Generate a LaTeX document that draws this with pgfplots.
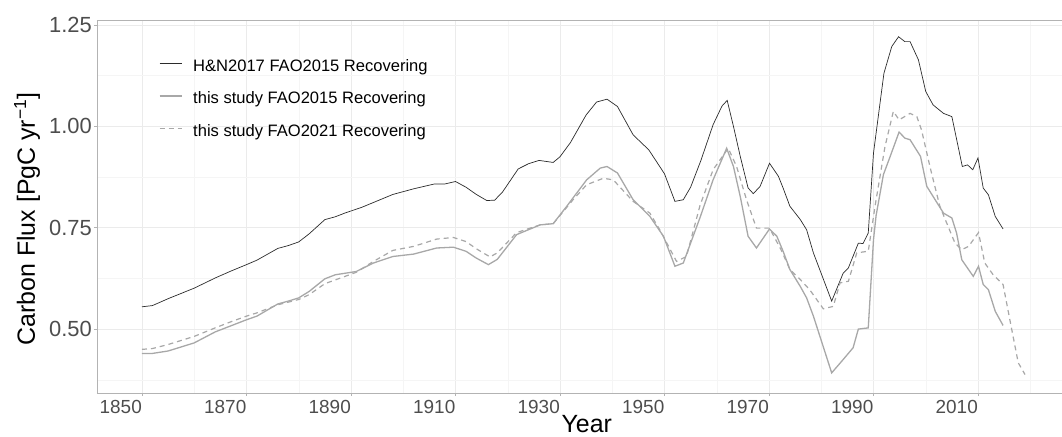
\documentclass[border=0pt]{standalone}
\usepackage{fontspec}
\setmainfont{Liberation Sans}
\usepackage{pgfplots}
\pgfplotsset{compat=1.18}

\definecolor{hn}{HTML}{2B2B2B}
\definecolor{ts}{HTML}{A8A8A8}
\definecolor{tick}{HTML}{4D4D4D}
\definecolor{frame}{HTML}{B3B3B3}
\definecolor{gmaj}{HTML}{EBEBEB}
\definecolor{gmin}{HTML}{F5F5F5}

\begin{document}
\begin{tikzpicture}
\begin{axis}[name=ax,
	scale only axis, width=965bp, height=373bp,
	xmin=1841.39, xmax=2026.08,
	ymin=0.3424, ymax=1.2623,
	axis x line=box, axis y line=left,
	axis line style={-, draw=frame, line width=0.8bp},
	xtick={1850,1870,...,2010},
	minor xtick={1860,1880,...,2020},
	ytick={0.5,0.75,1.0,1.25},
	minor ytick={0.375,0.625,0.875,1.125},
	yticklabels={0.50,0.75,1.00,1.25},
	xticklabel style={/pgf/number format/1000 sep={}},
	/pgf/number format/assume math mode=true,
	tick align=outside, major tick length=3bp, minor tick length=0pt,
	tick style={draw=frame, line width=0.8bp},
	xtick pos=bottom, ytick pos=left,
	grid=both,
	major grid style={draw=gmaj, line width=0.6bp},
	minor grid style={draw=gmin, line width=0.4bp},
	xticklabel style={font=\fontsize{19}{22}\selectfont, text=tick, inner sep=0pt, anchor=north east, yshift=-4bp},
	yticklabel style={font=\fontsize{22}{26}\selectfont, text=tick, inner sep=0pt, xshift=-2bp},
	xlabel={Year},
	ylabel={Carbon Flux [PgC yr\textsuperscript{−1}]},
	every axis x label/.style={at={(axis description cs:0.5075,0)}, anchor=base, yshift=-39bp, font=\fontsize{25}{30}\selectfont, inner sep=0pt},
	every axis y label/.style={at={(axis description cs:0,0.4665)}, xshift=-62bp, rotate=90, anchor=base, font=\fontsize{25}{30}\selectfont, inner sep=0pt},
	legend cell align=left,
	legend image code/.code={\draw[#1] (0bp,0.35em) -- (22bp,0.35em);},
	legend style={draw=none, fill=none, at={(axis description cs:0.0642,0.895)}, anchor=north west,
		font=\fontsize{16.6}{19}\selectfont, inner sep=0pt, outer sep=0pt, row sep=17bp, column sep=11bp,
		nodes={inner sep=0pt, text height=12bp, text depth=3.5bp}},
	clip=false,
]
\addplot[hn, line width=0.7bp] coordinates {
(1850,0.555) (1852,0.558) (1855,0.575) (1860,0.601) (1864,0.626) (1867,0.643)
(1870,0.659) (1872,0.670) (1876,0.699) (1878,0.706) (1880,0.715) (1882,0.735)
(1885,0.770) (1887,0.777) (1889,0.787) (1892,0.800) (1895,0.816) (1898,0.832)
(1902,0.846) (1906,0.858) (1908,0.858) (1910,0.864) (1912,0.850) (1914,0.832)
(1916,0.817) (1917.5,0.818) (1919,0.838) (1922,0.895) (1924,0.908) (1926,0.916)
(1928.7,0.911) (1930,0.925) (1932,0.960) (1935,1.028) (1937,1.060) (1939,1.067)
(1941,1.049) (1944,0.979) (1947,0.942) (1950,0.883) (1952,0.815) (1953.6,0.819)
(1955,0.850) (1957,0.917) (1959.3,1.004) (1961,1.050) (1962,1.064) (1963.2,1.000)
(1964.5,0.926) (1966,0.848) (1967,0.834) (1968.3,0.852) (1970.1,0.909) (1971.8,0.877)
(1972.7,0.848) (1974,0.803) (1976,0.770) (1977.2,0.745) (1978.5,0.688) (1982,0.569)
(1984.2,0.638) (1985.2,0.651) (1987.1,0.712) (1988,0.711) (1989,0.737) (1990,0.934)
(1992,1.131) (1993.5,1.197) (1994.8,1.221) (1996,1.209) (1997,1.209) (1998.6,1.164)
(2000,1.086) (2001.4,1.053) (2003.4,1.032) (2005,1.024) (2007,0.901) (2008,0.905)
(2009,0.893) (2010,0.922) (2011,0.848) (2012,0.831) (2013.3,0.778) (2014.8,0.747)
};
\addlegendentry{H\&N2017 FAO2015 Recovering}
\addplot[ts, line width=1.3bp] coordinates {
(1850,0.440) (1852,0.440) (1855,0.446) (1860,0.466) (1864,0.493) (1867,0.508)
(1870,0.523) (1872,0.532) (1876,0.562) (1878,0.569) (1880,0.577) (1882,0.593)
(1885,0.624) (1887,0.634) (1891,0.642) (1894.3,0.663) (1898,0.679) (1902,0.685)
(1906.4,0.700) (1909.6,0.702) (1912,0.692) (1914,0.675) (1916.3,0.659) (1918,0.672)
(1921.7,0.733) (1926.2,0.757) (1928.7,0.760) (1931.3,0.803) (1935.1,0.868) (1937.7,0.897)
(1939,0.901) (1941,0.885) (1944,0.819) (1947.2,0.778) (1949.8,0.729) (1952,0.655)
(1953.6,0.663) (1956.8,0.775) (1959.3,0.868) (1961.9,0.946) (1963.2,0.901) (1964.5,0.827)
(1966,0.729) (1967.6,0.700) (1970.1,0.747) (1971.5,0.729) (1972.7,0.692) (1974,0.647)
(1976,0.605) (1977.2,0.577) (1978.5,0.532) (1982,0.392) (1984.2,0.425) (1986.1,0.454)
(1987.1,0.500) (1989,0.503) (1990,0.720) (1990.5,0.780) (1991.9,0.881) (1993.2,0.926)
(1994.9,0.986) (1996,0.971) (1997,0.967) (1999,0.926) (2000.2,0.852) (2001.8,0.819)
(2003.4,0.786) (2005,0.774) (2005.9,0.737) (2006.9,0.671) (2009.1,0.630) (2010.1,0.655)
(2011,0.610) (2012,0.597) (2013.3,0.544) (2014.8,0.509)
};
\addlegendentry{this study FAO2015 Recovering}
\addplot[ts, line width=1.2bp, dash pattern=on 5bp off 4bp] coordinates {
(1850,0.450) (1852,0.452) (1855,0.462) (1860,0.482) (1864,0.503) (1867,0.518)
(1870,0.532) (1872,0.540) (1876,0.560) (1880,0.573) (1882,0.585) (1885,0.612)
(1888,0.626) (1891,0.640) (1894.3,0.667) (1898,0.694) (1902,0.704) (1906.4,0.722)
(1909.6,0.726) (1912,0.716) (1914,0.698) (1916.6,0.678) (1918,0.688) (1921.7,0.738)
(1926.2,0.757) (1928.7,0.760) (1932.5,0.819) (1935.1,0.856) (1938.3,0.872) (1940.2,0.868)
(1944,0.815) (1947.2,0.786) (1949.1,0.745) (1952.3,0.667) (1954.2,0.679) (1956.8,0.805)
(1959.3,0.893) (1962.2,0.946) (1963.8,0.901) (1965.7,0.819) (1967.6,0.749) (1970.1,0.749)
(1972.3,0.696) (1974,0.647) (1976,0.622) (1977.8,0.597) (1980.4,0.550) (1982.3,0.556)
(1983.6,0.614) (1985.2,0.618) (1986.8,0.688) (1989,0.692) (1990.3,0.803) (1992.2,0.950)
(1993.8,1.037) (1994.9,1.016) (1997,1.032) (1998.3,1.024) (1999.2,0.991) (2000.8,0.901)
(2002.7,0.803) (2004,0.762) (2005.6,0.712) (2006.9,0.696) (2008.2,0.704) (2010.1,0.738)
(2011.3,0.663) (2012.9,0.634) (2014.8,0.610) (2016.1,0.523) (2017.7,0.417) (2019,0.388)
};
\addlegendentry{this study FAO2021 Recovering}
\end{axis}
\pgfresetboundingbox
\path[use as bounding box] ([shift={(-97bp,-44bp)}]ax.south west) rectangle ([shift={(0bp,20bp)}]ax.north east);
\end{tikzpicture}
\end{document}
